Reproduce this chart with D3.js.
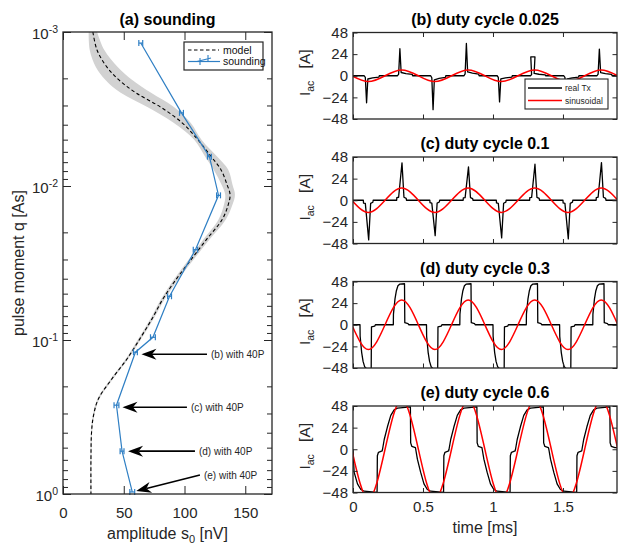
<!DOCTYPE html>
<html>
<head>
<meta charset="utf-8">
<script src="https://cdn.jsdelivr.net/npm/d3@7/dist/d3.min.js"></script>
<style>
  html, body { margin: 0; padding: 0; background: #fff; }
  svg text { font-family: "Liberation Sans", Arial, Helvetica, sans-serif; }
</style>
</head>
<body>
<svg id="fig" width="618" height="545"></svg>
<script>
// ---------- (a) sounding: measured amplitudes vs pulse moment ----------
const soundAmp = [64, 97.5, 120.5, 128, 109, 87.7, 74, 59.6, 44, 48.6, 57];                    // nV
const soundQ   = [0.00118, 0.00335, 0.00645, 0.0115, 0.0259, 0.052, 0.096, 0.12, 0.265, 0.527, 0.97]; // As
const soundErr = [1.6, 1.6, 1.6, 1.6, 1.8, 1.6, 2, 1.6, 2, 1.6, 2];                               // nV

// forward model curve and its uncertainty spread
const modelQ = [0.001, 0.001308, 0.001685, 0.002047, 0.002484, 0.003062, 0.003887, 0.005009, 0.006457,
                0.007836, 0.009804, 0.01138, 0.01321, 0.01652, 0.02228, 0.03001, 0.04045, 0.05451,
                0.07345, 0.09901, 0.1334, 0.1798, 0.2423, 0.3124, 0.3964, 0.5932, 1.0];
const modelAmp = [24.6, 28, 36, 46, 60, 80, 98, 111, 122, 130, 135, 137.5, 136, 131, 118, 105.5, 93, 82,
                  73, 63, 52.5, 40, 29, 25, 23.5, 23, 23];
const modelSpread = [3.5, 6, 9, 11, 12.5, 11, 7, 3, 5, 6, 4.5, 4, 3.5, 3, 2.5, 2, 1.8, 1.5,
                     1.3, 1.2, 1, 1, 0.8, 0.6, 0.5, 0.5, 0.5];

const qTicks = [1e-3, 1e-2, 1e-1, 1];
const qTickExp = ["-3", "-2", "-1", "0"];
const ampTicks = [0, 50, 100, 150];

const noteLabels = ["(b) with 40P", "(c) with 40P", "(d) with 40P", "(e) with 40P"];
const notePoint = [7, 8, 9, 10];   // sounding point each note refers to

// ---------- (b)-(e) transmitter current ----------
const dutyCycles = ["0.025", "0.1", "0.3", "0.6"];
const peakTimes = [0.11, 0.348, 0.585, 0.823, 1.06, 1.298, 1.536, 1.773];          // ms, negative half-cycle first
const sineZeros = [-0.009, 0.229, 0.467, 0.704, 0.942, 1.179, 1.417, 1.655, 1.892]; // ms
const sineAmp = [6.5, 13.5, 27.5, 55];                                              // A
const txPeaks = [
  [30, 30, 37.6, 35.8, 29, 21, 30, 29.6],
  [44, 41.5, 39.3, 37, 41.8, 40, 42.9, 41.8],
  [49, 45.5, 49, 45.5, 49, 45.5, 49, 45.5],
  [48, 47, 48, 47, 48, 47, 48, 47]
];
const txHold = [0, 0, 0, 0, 0, 0.03, 0, 0];   // flat-topped pulse in (b)
// pulse shape per duty cycle: [offset from half-cycle peak (ms), fraction of pulse peak]
const txShape = [
  [[-0.03, 0], [-0.022, 0.06], [-0.013, 1], [-0.004, 0.12], [0.03, 0.08], [0.075, 0.05], [0.078, 0]],
  [[-0.036, 0], [-0.035, 0.07], [-0.022, 0.08], [0.002, 1], [0.016, 0.08], [0.032, 0.05], [0.034, 0]],
  [[-0.06, 0], [-0.059, 0.26], [-0.048, 0.63], [-0.038, 0.83], [-0.027, 0.95], [-0.015, 0.99],
   [0.02, 1], [0.022, 0.05], [0.045, 0.03], [0.05, 0]],
  [[-0.137, 0], [-0.125, 0.23], [-0.102, 0.53], [-0.078, 0.8], [-0.054, 0.93], [-0.03, 0.97],
   [0.062, 1], [0.064, 0.15], [0.072, 0.07], [0.098, 0.04]]
];
const currentTicks = [-48, -24, 0, 24, 48];
const timeTicks = [0, 0.5, 1, 1.5];
const legendA = ["model", "sounding"];
const legendB = ["real Tx", "sinusoidal"];

// ---------- drawing ----------
const ink = "#262626";
const blue = "#2f7fc4";
const fig = d3.select("#fig");
const defs = fig.append("defs");

function addClip(id, x, y, w, h) {
  defs.append("clipPath").attr("id", id)
    .append("rect").attr("x", x).attr("y", y).attr("width", w).attr("height", h);
  return `url(#${id})`;
}

function styleAxis(g, size) {
  g.attr("color", ink).attr("font-size", size)
   .attr("font-family", '"Liberation Sans", Arial, sans-serif');
  g.select(".domain").remove();
  g.selectAll(".tick line").attr("stroke-width", 1);
  g.selectAll(".tick text").attr("fill", ink);
}

function box(g, x0, y0, x1, y1) {
  g.append("rect").attr("x", x0).attr("y", y0).attr("width", x1 - x0).attr("height", y1 - y0)
    .attr("fill", "none").attr("stroke", ink).attr("stroke-width", 1.3);
}

function arrow(g, x1, y1, x2, y2) {
  const a = Math.atan2(y2 - y1, x2 - x1), L = 15, Wd = 11, notch = 10.5;
  const c = Math.cos(a), s = Math.sin(a);
  g.append("line").attr("x1", x1).attr("y1", y1)
    .attr("x2", x2 - c * notch).attr("y2", y2 - s * notch)
    .attr("stroke", "#000").attr("stroke-width", 1.6);
  const pts = [[0, 0], [-L, -Wd / 2], [-notch, 0], [-L, Wd / 2]]
    .map(([u, v]) => [x2 + u * c - v * s, y2 + u * s + v * c]);
  g.append("path").attr("d", "M" + pts.map(p => p.join(",")).join("L") + "Z").attr("fill", "#000");
}

// ===== panel (a) =====
const A = { l: 63, r: 272, t: 32, b: 494 };
const xA = d3.scaleLinear().domain([0, 172]).range([A.l, A.r]);
const yA = d3.scaleLog().domain([1e-3, 1]).range([A.t, A.b]);
const gA = fig.append("g");
const plotA = gA.append("g").attr("clip-path", addClip("clipA", A.l, A.t, A.r - A.l, A.b - A.t));

const model = modelQ.map((q, i) => ({ q, amp: modelAmp[i], w: modelSpread[i] }));
plotA.append("path").datum(model)
  .attr("d", d3.area().curve(d3.curveCatmullRom)
    .y(d => yA(d.q)).x0(d => xA(d.amp - d.w)).x1(d => xA(d.amp + d.w)))
  .attr("fill", "#d2d2d2");
plotA.append("path").datum(model)
  .attr("d", d3.line().curve(d3.curveCatmullRom).x(d => xA(d.amp)).y(d => yA(d.q)))
  .attr("fill", "none").attr("stroke", "#000").attr("stroke-width", 1.1)
  .attr("stroke-dasharray", "3.5,2.5");

const sound = soundQ.map((q, i) => ({ q, amp: soundAmp[i], e: soundErr[i] }));
gA.append("path").datum(sound)
  .attr("d", d3.line().x(d => xA(d.amp)).y(d => yA(d.q)))
  .attr("fill", "none").attr("stroke", blue).attr("stroke-width", 1.2);
const bars = gA.append("g").attr("stroke", blue).attr("stroke-width", 1.2)
  .selectAll("g").data(sound).join("g");
bars.append("line").attr("x1", d => xA(d.amp - d.e)).attr("x2", d => xA(d.amp + d.e))
  .attr("y1", d => yA(d.q)).attr("y2", d => yA(d.q));
[-1, 1].forEach(side => {
  bars.append("line")
    .attr("x1", d => xA(d.amp + side * d.e)).attr("x2", d => xA(d.amp + side * d.e))
    .attr("y1", d => yA(d.q) - 3).attr("y2", d => yA(d.q) + 3);
});

// axes of (a)
const minorQ = [];
[1e-3, 1e-2, 1e-1].forEach(dec => { for (let m = 2; m <= 9; m++) minorQ.push(dec * m); });
const axB = gA.append("g").attr("transform", `translate(0,${A.b})`)
  .call(d3.axisBottom(xA).tickValues(ampTicks).tickSize(-8).tickPadding(13));
styleAxis(axB, 15);
styleAxis(gA.append("g").attr("transform", `translate(0,${A.t})`)
  .call(d3.axisTop(xA).tickValues(ampTicks).tickSize(-8).tickFormat("")), 15);
const axL = gA.append("g").attr("transform", `translate(${A.l},0)`)
  .call(d3.axisLeft(yA).tickValues(qTicks).tickSize(-8).tickPadding(5));
styleAxis(axL, 15);
axL.selectAll(".tick text").attr("dy", 6).each(function (d, i) {
  const t = d3.select(this).text(null);
  t.append("tspan").text("10");
  t.append("tspan").attr("dy", -6).attr("font-size", 10.5).text(qTickExp[i]);
});
styleAxis(gA.append("g").attr("transform", `translate(${A.l},0)`)
  .call(d3.axisLeft(yA).tickValues(minorQ).tickSize(-5).tickFormat("")), 15);
styleAxis(gA.append("g").attr("transform", `translate(${A.r},0)`)
  .call(d3.axisRight(yA).tickValues(qTicks).tickSize(-8).tickFormat("")), 15);
styleAxis(gA.append("g").attr("transform", `translate(${A.r},0)`)
  .call(d3.axisRight(yA).tickValues(minorQ).tickSize(-5).tickFormat("")), 15);
box(gA, A.l, A.t, A.r, A.b);

// annotations pointing at the 40-pulse soundings
const noteTailAmp = [118.5, 102, 108.6, 112.7];
const noteRise = [2, 2, 0, -17];
const gN = gA.append("g");
notePoint.forEach((k, i) => {
  const px = xA(sound[k].amp), py = yA(sound[k].q);
  const tx = xA(noteTailAmp[i]), ty = py + noteRise[i];
  const hx = i === 3 ? px + 4 : px + 6, hy = i === 3 ? py - 1 : ty;
  arrow(gN, tx, ty, hx, hy);
  gN.append("text").attr("x", tx + 4).attr("y", ty + 3.6)
    .attr("font-size", 10).attr("fill", ink).text(noteLabels[i]);
});

// legend of (a)
const lgA = gA.append("g");
lgA.append("rect").attr("x", 184).attr("y", 42).attr("width", 79).attr("height", 28)
  .attr("fill", "#fff").attr("stroke", ink).attr("stroke-width", 1.2);
lgA.append("line").attr("x1", 188).attr("x2", 219).attr("y1", 50).attr("y2", 50)
  .attr("stroke", "#000").attr("stroke-width", 1.1).attr("stroke-dasharray", "3.5,2.5");
lgA.append("line").attr("x1", 188).attr("x2", 220).attr("y1", 61.5).attr("y2", 61.5)
  .attr("stroke", blue).attr("stroke-width", 1.2);
lgA.append("path").attr("d", "M197,61.5L211,58M200,58V65M208,55V61.5")
  .attr("fill", "none").attr("stroke", blue).attr("stroke-width", 1.1);
legendA.forEach((s, i) => {
  lgA.append("text").attr("x", 223).attr("y", 53.5 + i * 11.5)
    .attr("font-family", '"Liberation Serif", "Times New Roman", serif')
    .attr("font-size", 10.5).attr("fill", "#111").text(s);
});

gA.append("text").attr("x", (A.l + A.r) / 2).attr("y", A.t - 7)
  .attr("text-anchor", "middle").attr("font-weight", "bold").attr("font-size", 16)
  .attr("fill", "#000").text("(a) sounding");
const labX = gA.append("text").attr("x", (A.l + A.r) / 2).attr("y", 539)
  .attr("text-anchor", "middle").attr("font-size", 16).attr("fill", ink);
labX.append("tspan").text("amplitude s");
labX.append("tspan").attr("font-size", 11).attr("dy", 4).text("0");
labX.append("tspan").attr("dy", -4).text(" [nV]");
gA.append("text").attr("transform", `translate(24,${(A.t + A.b) / 2}) rotate(-90)`)
  .attr("text-anchor", "middle").attr("font-size", 16).attr("fill", ink)
  .text("pulse moment q [As]");

// ===== panels (b)-(e) =====
const R = { l: 353, r: 617 };
const tops = [32.5, 157, 281.5, 406];
const PH = 86.5;
const xR = d3.scaleLinear().domain([0, 1.886]).range([R.l, R.r]);
const letters = ["b", "c", "d", "e"];

tops.forEach((top, p) => {
  const bot = top + PH;
  const yR = d3.scaleLinear().domain([-48, 48]).range([bot, top]);
  const g = fig.append("g");
  const plot = g.append("g").attr("clip-path", addClip("clip" + p, R.l, top, R.r - R.l, PH));

  // measured transmitter current
  const tx = [[0, 0]];
  peakTimes.forEach((tc, i) => {
    const sgn = i % 2 === 0 ? -1 : 1;
    const H = txPeaks[p][i];
    txShape[p].forEach(([dt, f]) => {
      if (p === 0 && f === 1 && txHold[i] > 0) {
        tx.push([tc + dt - txHold[i] / 2, sgn * H], [tc + dt + txHold[i] / 2, sgn * H]);
      } else if (tc + dt > 0) {
        tx.push([tc + dt, sgn * H * f]);
      }
    });
  });
  tx.push([xR.domain()[1], tx[tx.length - 1][1]]);
  plot.append("path").datum(tx)
    .attr("d", d3.line().x(d => xR(d[0])).y(d => yR(d[1])))
    .attr("fill", "none").attr("stroke", "#000").attr("stroke-width", 1.3)
    .attr("stroke-linejoin", "round");

  // equivalent sinusoid
  const knots = [];
  sineZeros.forEach((t0, i) => {
    knots.push([t0, 0]);
    if (i < peakTimes.length) knots.push([peakTimes[i], (i % 2 === 0 ? -1 : 1) * sineAmp[p]]);
  });
  plot.append("path").datum(knots)
    .attr("d", d3.line().curve(d3.curveNatural).x(d => xR(d[0])).y(d => yR(d[1])))
    .attr("fill", "none").attr("stroke", "#ff0000").attr("stroke-width", 1.5);

  // axes
  const axY = g.append("g").attr("transform", `translate(${R.l},0)`)
    .call(d3.axisLeft(yR).tickValues(currentTicks).tickSize(-4.5).tickPadding(5));
  styleAxis(axY, 15);
  styleAxis(g.append("g").attr("transform", `translate(${R.r},0)`)
    .call(d3.axisRight(yR).tickValues(currentTicks).tickSize(-4.5).tickFormat("")), 15);
  const axX = g.append("g").attr("transform", `translate(0,${bot})`)
    .call(d3.axisBottom(xR).tickValues(timeTicks).tickSize(-4.5).tickPadding(9)
      .tickFormat(p === 3 ? d3.format("") : ""));
  styleAxis(axX, 15);
  styleAxis(g.append("g").attr("transform", `translate(0,${top})`)
    .call(d3.axisTop(xR).tickValues(timeTicks).tickSize(-4.5).tickFormat("")), 15);
  box(g, R.l, top, R.r, bot);

  g.append("text").attr("x", (R.l + R.r) / 2).attr("y", top - 8)
    .attr("text-anchor", "middle").attr("font-weight", "bold").attr("font-size", 16)
    .attr("fill", "#000").text(`(${letters[p]}) duty cycle ${dutyCycles[p]}`);

  const yl = g.append("text").attr("transform", `translate(310,${(top + bot) / 2 - 3}) rotate(-90)`)
    .attr("text-anchor", "middle").attr("font-size", 15.5).attr("fill", ink);
  yl.append("tspan").text("I");
  yl.append("tspan").attr("font-size", 10.5).attr("dy", 3.5).text("ac");
  yl.append("tspan").attr("dy", -3.5).attr("dx", 8).text(" [A]");

  if (p === 0) {
    const lg = g.append("g");
    lg.append("rect").attr("x", 525).attr("y", 79).attr("width", 83).attr("height", 30)
      .attr("fill", "#fff").attr("stroke", ink).attr("stroke-width", 1.1);
    ["#000", "#ff0000"].forEach((c, i) => {
      lg.append("line").attr("x1", 528).attr("x2", 562).attr("y1", 88 + i * 12.5).attr("y2", 88 + i * 12.5)
        .attr("stroke", c).attr("stroke-width", i ? 1.5 : 1.3);
      lg.append("text").attr("x", 565).attr("y", 91 + i * 12.5).attr("font-size", 8.5)
        .attr("fill", ink).text(legendB[i]);
    });
  }
  if (p === 3) {
    g.append("text").attr("x", (R.l + R.r) / 2).attr("y", 533)
      .attr("text-anchor", "middle").attr("font-size", 16).attr("fill", ink).text("time [ms]");
  }
});
</script>
</body>
</html>
